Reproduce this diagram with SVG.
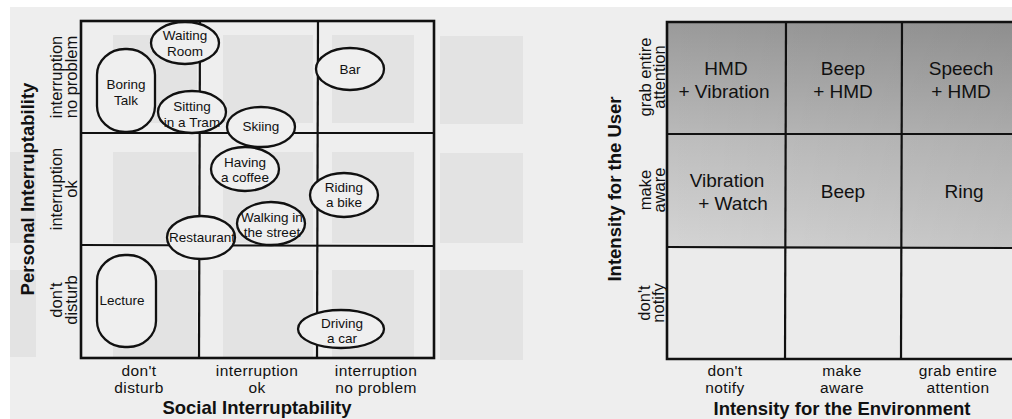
<svg xmlns="http://www.w3.org/2000/svg" width="1012" height="419" viewBox="0 0 1012 419">
<defs>
<linearGradient id="gTop" x1="0" y1="0" x2="0" y2="1">
<stop offset="0" stop-color="#9a9a9a"/>
<stop offset="1" stop-color="#b9b9b9"/>
</linearGradient>
<linearGradient id="gMid" x1="0" y1="0" x2="0" y2="1">
<stop offset="0" stop-color="#bdbdbd"/>
<stop offset="1" stop-color="#d4d4d4"/>
</linearGradient>
<linearGradient id="gRight" x1="0" y1="0" x2="1" y2="0">
<stop offset="0" stop-color="#000" stop-opacity="0"/>
<stop offset="1" stop-color="#000" stop-opacity="0.08"/>
</linearGradient>
</defs>
<style>
.bg{fill:#eeeeee}
.faint{fill:#e3e3e3}
.line{stroke:#111;stroke-width:2.2;fill:none}
.frame{stroke:#111;stroke-width:2.6;fill:none}
.shape{fill:#efefef;stroke:#111;stroke-width:2.3}
.lbl{font-family:"Liberation Sans",Arial,sans-serif;font-size:13.5px;fill:#111;text-anchor:middle}
.tick{font-family:"Liberation Sans",Arial,sans-serif;font-size:16.5px;fill:#111;text-anchor:middle}
.btick{font-family:"Liberation Sans",Arial,sans-serif;font-size:15.5px;letter-spacing:0.4px;fill:#111;text-anchor:middle}
.cell{font-family:"Liberation Sans",Arial,sans-serif;font-size:19px;fill:#111;text-anchor:middle}
.axis{font-family:"Liberation Sans",Arial,sans-serif;font-size:18.5px;font-weight:bold;fill:#111;text-anchor:middle}
</style>
<rect x="0" y="0" width="1012" height="419" fill="#ffffff"/>
<rect class="bg" x="10" y="7" width="1002" height="412"/>
<g id="background-faint">
<rect class="faint" x="113" y="35" width="84" height="88"/>
<rect class="faint" x="223" y="35" width="90" height="88"/>
<rect class="faint" x="332" y="35" width="82" height="88"/>
<rect class="faint" x="440" y="36" width="83" height="88"/>
<rect class="faint" x="113" y="152" width="84" height="91"/>
<rect class="faint" x="223" y="152" width="90" height="91"/>
<rect class="faint" x="332" y="152" width="82" height="91"/>
<rect class="faint" x="440" y="153" width="83" height="90"/>
<rect class="faint" x="113" y="270" width="84" height="87"/>
<rect class="faint" x="223" y="270" width="90" height="87"/>
<rect class="faint" x="332" y="270" width="82" height="87"/>
<rect class="faint" x="440" y="270" width="83" height="90"/>
<rect class="faint" x="10" y="152" width="26" height="91"/>
<rect class="faint" x="10" y="270" width="26" height="87"/>
</g>
<g id="right-grid-fill">
<rect x="667" y="22" width="353" height="112" fill="url(#gTop)"/>
<rect x="667" y="134" width="353" height="113" fill="url(#gMid)"/>
<rect x="667" y="247" width="353" height="112" fill="#ebebeb"/>
<rect x="667" y="22" width="353" height="225" fill="url(#gRight)"/>
</g>
<g id="grid-lines">
<rect class="frame" x="81" y="21" width="353" height="337"/>
<line class="line" x1="81" y1="133" x2="434" y2="133"/>
<line class="line" x1="81" y1="245" x2="434" y2="246"/>
<line class="line" x1="200" y1="21" x2="199" y2="358"/>
<line class="line" x1="318" y1="21" x2="317" y2="358"/>
<polyline class="frame" points="1020,22 667,22 667,359 1020,359"/>
<line class="line" x1="667" y1="134" x2="1012" y2="134"/>
<line class="line" x1="667" y1="247" x2="1012" y2="248"/>
<line class="line" x1="786" y1="22" x2="785" y2="359"/>
<line class="line" x1="902" y1="22" x2="901" y2="359"/>
</g>
<g id="connectors"></g>
<g id="node-boring-talk">
<rect class="shape" x="97" y="49" width="58" height="83" rx="28" ry="26"/>
<text class="lbl" x="126" y="89">Boring</text>
<text class="lbl" x="126" y="105">Talk</text>
</g>
<g id="node-waiting-room">
<ellipse class="shape" cx="185" cy="43" rx="34" ry="21"/>
<text class="lbl" x="185" y="40">Waiting</text>
<text class="lbl" x="185" y="56">Room</text>
</g>
<g id="node-sitting-tram">
<ellipse class="shape" cx="192" cy="112" rx="34" ry="21"/>
<text class="lbl" x="192" y="111">Sitting</text>
<text class="lbl" x="192" y="127">in a Tram</text>
</g>
<g id="node-skiing">
<ellipse class="shape" cx="261" cy="127" rx="34" ry="20"/>
<text class="lbl" x="261" y="131">Skiing</text>
</g>
<g id="node-bar">
<ellipse class="shape" cx="350" cy="69" rx="34" ry="21"/>
<text class="lbl" x="350" y="74">Bar</text>
</g>
<g id="node-having-coffee">
<ellipse class="shape" cx="245" cy="169" rx="34" ry="22"/>
<text class="lbl" x="245" y="167">Having</text>
<text class="lbl" x="245" y="182">a coffee</text>
</g>
<g id="node-riding-bike">
<ellipse class="shape" cx="344" cy="195" rx="34" ry="22"/>
<text class="lbl" x="344" y="192">Riding</text>
<text class="lbl" x="344" y="207">a bike</text>
</g>
<g id="node-walking-street">
<ellipse class="shape" cx="271" cy="223.5" rx="34" ry="21.5"/>
<text class="lbl" x="272" y="222">Walking in</text>
<text class="lbl" x="272" y="237">the street</text>
</g>
<g id="node-restaurant">
<ellipse class="shape" cx="201" cy="237.5" rx="34" ry="21.5"/>
<text class="lbl" x="202" y="242">Restaurant</text>
</g>
<g id="node-lecture">
<rect class="shape" x="97" y="255" width="59" height="92" rx="28" ry="26"/>
<text class="lbl" x="122" y="305">Lecture</text>
</g>
<g id="node-driving-car">
<ellipse class="shape" cx="341" cy="329" rx="43" ry="19"/>
<text class="lbl" x="342" y="328">Driving</text>
<text class="lbl" x="342" y="343">a car</text>
</g>
<g id="left-axis-labels">
<text class="axis" transform="translate(34,189) rotate(-90)">Personal Interruptability</text>
<text class="tick" transform="translate(62,77) rotate(-90)">interruption</text>
<text class="tick" transform="translate(77,77) rotate(-90)">no problem</text>
<text class="tick" transform="translate(62,189) rotate(-90)">interruption</text>
<text class="tick" transform="translate(77,189) rotate(-90)">ok</text>
<text class="tick" transform="translate(62,300) rotate(-90)">don't</text>
<text class="tick" transform="translate(77,300) rotate(-90)">disturb</text>
<text class="btick" x="139" y="375.5">don't</text>
<text class="btick" x="139" y="393">disturb</text>
<text class="btick" x="257" y="375.5">interruption</text>
<text class="btick" x="257" y="393">ok</text>
<text class="btick" x="376" y="375.5">interruption</text>
<text class="btick" x="376" y="393">no problem</text>
<text class="axis" x="257" y="414">Social Interruptability</text>
</g>
<g id="cell-hmd-vibration">
<text class="cell" x="726" y="75">HMD</text>
<text class="cell" x="724" y="98">+ Vibration</text>
</g>
<g id="cell-beep-hmd">
<text class="cell" x="843" y="75">Beep</text>
<text class="cell" x="843" y="98">+ HMD</text>
</g>
<g id="cell-speech-hmd">
<text class="cell" x="961" y="75">Speech</text>
<text class="cell" x="961" y="98">+ HMD</text>
</g>
<g id="cell-vibration-watch">
<text class="cell" x="727" y="187">Vibration</text>
<text class="cell" x="733" y="210">+ Watch</text>
</g>
<g id="cell-beep">
<text class="cell" x="843" y="198">Beep</text>
</g>
<g id="cell-ring">
<text class="cell" x="964" y="198">Ring</text>
</g>
<g id="right-axis-labels">
<text class="axis" transform="translate(621,189) rotate(-90)">Intensity for the User</text>
<text class="tick" transform="translate(651,77) rotate(-90)">grab entire</text>
<text class="tick" transform="translate(665,77) rotate(-90)">attention</text>
<text class="tick" transform="translate(651,190) rotate(-90)">make</text>
<text class="tick" transform="translate(665,190) rotate(-90)">aware</text>
<text class="tick" transform="translate(650,303) rotate(-90)">don't</text>
<text class="tick" transform="translate(664,303) rotate(-90)">notify</text>
<text class="btick" x="725" y="375.5">don't</text>
<text class="btick" x="725" y="393">notify</text>
<text class="btick" x="842" y="375.5">make</text>
<text class="btick" x="842" y="393">aware</text>
<text class="btick" x="958" y="375.5">grab entire</text>
<text class="btick" x="958" y="393">attention</text>
<text class="axis" x="842" y="415">Intensity for the Environment</text>
</g>
</svg>
